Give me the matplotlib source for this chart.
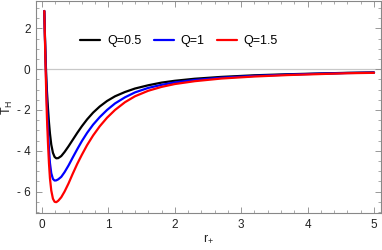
import matplotlib
matplotlib.use("Agg")
import matplotlib.pyplot as plt
from matplotlib.ticker import MultipleLocator, FixedLocator

r_plus = [0.035, 0.045, 0.055, 0.065, 0.075, 0.09, 0.105, 0.12, 0.14, 0.165, 0.19, 0.215, 0.245,
          0.29, 0.34, 0.4, 0.46, 0.53, 0.6, 0.68, 0.77, 0.87, 0.98, 1.1, 1.25, 1.4, 1.6, 1.8,
          2.0, 2.3, 2.7, 3.2, 3.7, 4.2, 4.6, 5.0]

T_q05 = [2.85, 1.6, 0.5, -0.4, -1.1, -1.9, -2.6, -3.15, -3.7, -4.1, -4.3, -4.37, -4.36,
         -4.26, -4.06, -3.78, -3.48, -3.13, -2.8, -2.46, -2.13, -1.83, -1.56, -1.33, -1.12, -0.95, -0.79, -0.66,
         -0.57, -0.47, -0.38, -0.3, -0.25, -0.21, -0.18, -0.16]

T_q1 = [2.85, 1.5, 0.3, -0.8, -1.7, -2.9, -3.9, -4.6, -5.1, -5.38, -5.46, -5.45, -5.4,
        -5.28, -5.05, -4.72, -4.35, -3.93, -3.53, -3.12, -2.72, -2.35, -2.0, -1.68, -1.38, -1.14, -0.92, -0.77,
        -0.65, -0.53, -0.42, -0.33, -0.27, -0.22, -0.19, -0.17]

T_q15 = [2.85, 1.4, 0.0, -1.3, -2.4, -3.6, -4.6, -5.35, -5.95, -6.35, -6.5, -6.52, -6.45,
         -6.28, -6.0, -5.6, -5.15, -4.65, -4.2, -3.72, -3.25, -2.8, -2.38, -2.0, -1.62, -1.33, -1.06, -0.87,
         -0.73, -0.59, -0.46, -0.36, -0.29, -0.24, -0.2, -0.18]

labels = ["Q=0.5", "Q=1", "Q=1.5"]
colors = ["black", "blue", "red"]

x_ticks = [0, 1, 2, 3, 4, 5]
y_ticks = [-6, -4, -2, 0, 2]
y_ticklabels = ["- 6", "- 4", "- 2", "0", "2"]

plt.rcParams['font.family'] = ['Liberation Sans', 'DejaVu Sans']
plt.rcParams['mathtext.fontset'] = 'custom'
plt.rcParams['mathtext.rm'] = 'Liberation Sans'

fig = plt.figure(figsize=(3.82, 2.5), dpi=100)
ax = fig.add_axes([36/382, 1 - 213/250, (381 - 36)/382, 212/250])

ax.axhline(0, color="#c8c8c8", lw=0.9, zorder=1)
for T, lab, c in zip([T_q05, T_q1, T_q15], labels, colors):
    ax.plot(r_plus, T, color=c, lw=1.6, label=lab, zorder=3,
            solid_joinstyle="round", solid_capstyle="round")

ax.set_xlim(-0.09, 5.105)
ax.set_ylim(-7.05, 3.34)

ax.xaxis.set_major_locator(FixedLocator(x_ticks))
ax.xaxis.set_minor_locator(MultipleLocator(0.2))
ax.yaxis.set_major_locator(FixedLocator(y_ticks))
ax.yaxis.set_minor_locator(MultipleLocator(0.5))
ax.set_xticklabels([str(v) for v in x_ticks])
ax.set_yticklabels(y_ticklabels)

ax.tick_params(which="both", direction="in", top=True, right=True, color="#888888",
               labelsize=8.5, labelcolor="#222222")
ax.tick_params(which="major", length=4, width=0.6, pad=4)
ax.tick_params(which="minor", length=2, width=0.5)
for s in ax.spines.values():
    s.set_color("#888888")
    s.set_linewidth(0.8)

ax.set_xlabel(r"r$_{\mathrm{+}}$", fontsize=9, labelpad=2, color="#222222")
ax.set_ylabel(r"T$_{\mathrm{H}}$", fontsize=9, labelpad=1, color="#222222")

ax.legend(loc="center left", bbox_to_anchor=((80 - 36) / 345, (213 - 41) / 212), ncol=3,
          frameon=False, borderpad=0, borderaxespad=0,
          fontsize=9, handlelength=1.6, handletextpad=0.55, columnspacing=1.0)

fig.savefig("out.png", dpi=100)
